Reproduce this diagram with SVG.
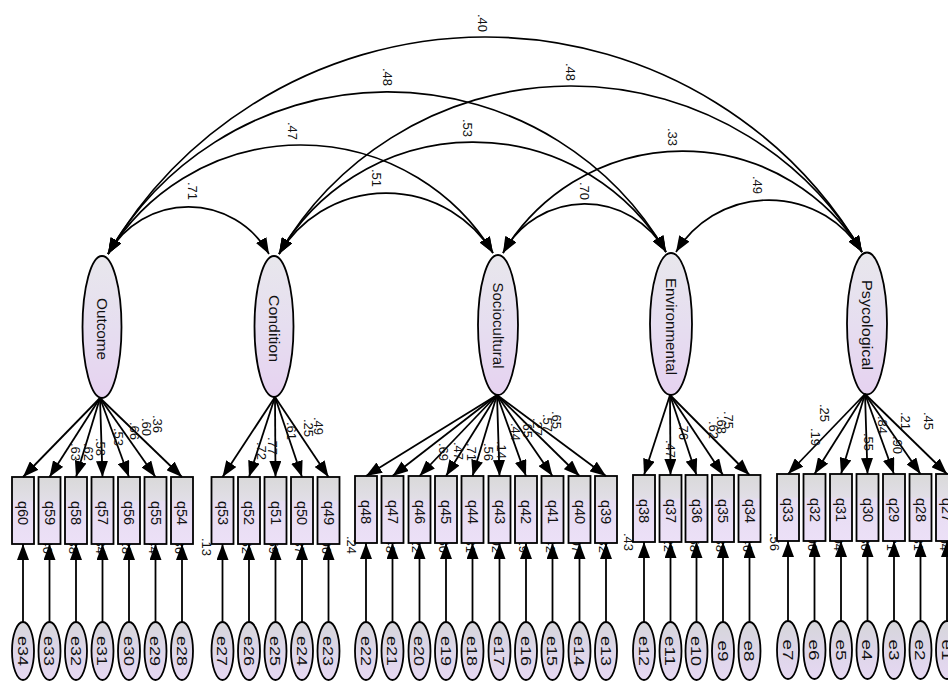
<svg xmlns="http://www.w3.org/2000/svg" width="948" height="687" viewBox="0 0 948 687">
<defs>
<linearGradient id="gb" x1="0" y1="0" x2="0" y2="1"><stop offset="0" stop-color="#d9d9d9"/><stop offset="0.34" stop-color="#e1dee6"/><stop offset="0.37" stop-color="#e6dcf1"/><stop offset="1" stop-color="#ece0f7"/></linearGradient>
<linearGradient id="gl" x1="0" y1="0" x2="0" y2="1"><stop offset="0" stop-color="#e8e7ec"/><stop offset="0.5" stop-color="#e6def0"/><stop offset="1" stop-color="#e6d2f0"/></linearGradient>
<linearGradient id="ge" x1="0" y1="0" x2="0" y2="1"><stop offset="0" stop-color="#d6d6da"/><stop offset="0.5" stop-color="#ddd6e8"/><stop offset="1" stop-color="#e6d8f2"/></linearGradient>
<marker id="ah" viewBox="0 0 16 12" refX="16" refY="6" markerWidth="16" markerHeight="12" markerUnits="userSpaceOnUse" orient="auto-start-reverse"><path d="M0,0 L16,6 L0,12 z" fill="#000"/></marker>
</defs>
<style>
text{font-family:"Liberation Sans",Arial,sans-serif;fill:#111;text-anchor:middle;dominant-baseline:central}
.box{fill:url(#gb);stroke:#000;stroke-width:1.8}
.lat{fill:url(#gl);stroke:#000;stroke-width:1.8}
.err{fill:url(#ge);stroke:#000;stroke-width:1.8}
.ln{stroke:#000;stroke-width:1.8;fill:none;marker-end:url(#ah)}
.cv{stroke:#000;stroke-width:1.7;fill:none;marker-start:url(#ah);marker-end:url(#ah)}
.ql{font-size:14.5px}
.el{font-size:15px}
.ll{font-size:15.5px}
.c{font-size:13px}
</style>
<rect width="948" height="687" fill="#fff"/>

<!-- latent nodes -->
<g id="Outcome"><ellipse class="lat" cx="102" cy="327" rx="19.5" ry="71"/><text class="ll" x="102" y="329" transform="rotate(90 102 329)" textLength="62" lengthAdjust="spacingAndGlyphs">Outcome</text></g>
<g id="Condition"><ellipse class="lat" cx="274" cy="326.5" rx="19.5" ry="70.5"/><text class="ll" x="274" y="328.5" transform="rotate(90 274 328.5)" textLength="67" lengthAdjust="spacingAndGlyphs">Condition</text></g>
<g id="Sociocultural"><ellipse class="lat" cx="498" cy="325" rx="20" ry="70"/><text class="ll" x="498" y="325.5" transform="rotate(90 498 325.5)" textLength="86" lengthAdjust="spacingAndGlyphs">Sociocultural</text></g>
<g id="Environmental"><ellipse class="lat" cx="671" cy="324" rx="21" ry="71"/><text class="ll" x="671" y="326.5" transform="rotate(90 671 326.5)" textLength="97" lengthAdjust="spacingAndGlyphs">Environmental</text></g>
<g id="Psycological"><ellipse class="lat" cx="867" cy="323.5" rx="20" ry="71"/><text class="ll" x="867" y="325" transform="rotate(90 867 325)" textLength="90" lengthAdjust="spacingAndGlyphs">Psycological</text></g>

<!-- observed nodes: Outcome -->
<g id="q60"><rect class="box" x="12" y="477" width="22" height="67"/><text class="ql" x="23" y="513" transform="rotate(90 23 513)">q60</text><text class="c" x="47" y="545" transform="rotate(90 47 545)">.40</text></g>
<g id="q59"><rect class="box" x="38.5" y="477" width="22" height="67"/><text class="ql" x="49.5" y="513" transform="rotate(90 49.5 513)">q59</text><text class="c" x="73.5" y="545" transform="rotate(90 73.5 545)">.38</text></g>
<g id="q58"><rect class="box" x="65" y="477" width="22" height="67"/><text class="ql" x="76" y="513" transform="rotate(90 76 513)">q58</text><text class="c" x="100" y="545" transform="rotate(90 100 545)">.34</text></g>
<g id="q57"><rect class="box" x="91.5" y="477" width="22" height="67"/><text class="ql" x="102.5" y="513" transform="rotate(90 102.5 513)">q57</text><text class="c" x="126.5" y="545" transform="rotate(90 126.5 545)">.28</text></g>
<g id="q56"><rect class="box" x="118" y="477" width="22" height="67"/><text class="ql" x="129" y="513" transform="rotate(90 129 513)">q56</text><text class="c" x="153" y="545" transform="rotate(90 153 545)">.44</text></g>
<g id="q55"><rect class="box" x="144.5" y="477" width="22" height="67"/><text class="ql" x="155.5" y="513" transform="rotate(90 155.5 513)">q55</text><text class="c" x="179.5" y="545" transform="rotate(90 179.5 545)">.36</text></g>
<g id="q54"><rect class="box" x="171" y="477" width="22" height="67"/><text class="ql" x="182" y="513" transform="rotate(90 182 513)">q54</text><text class="c" x="206" y="547" transform="rotate(90 206 547)">.13</text></g>

<!-- Condition -->
<g id="q53"><rect class="box" x="211.5" y="477" width="22" height="67"/><text class="ql" x="222.5" y="513" transform="rotate(90 222.5 513)">q53</text><text class="c" x="246.5" y="545" transform="rotate(90 246.5 545)">.52</text></g>
<g id="q52"><rect class="box" x="238" y="477" width="22" height="67"/><text class="ql" x="249" y="513" transform="rotate(90 249 513)">q52</text><text class="c" x="273" y="545" transform="rotate(90 273 545)">.59</text></g>
<g id="q51"><rect class="box" x="264.5" y="477" width="22" height="67"/><text class="ql" x="275.5" y="513" transform="rotate(90 275.5 513)">q51</text><text class="c" x="299.5" y="545" transform="rotate(90 299.5 545)">.37</text></g>
<g id="q50"><rect class="box" x="291" y="477" width="22" height="67"/><text class="ql" x="302" y="513" transform="rotate(90 302 513)">q50</text><text class="c" x="326" y="545" transform="rotate(90 326 545)">.06</text></g>
<g id="q49"><rect class="box" x="317.5" y="477" width="22" height="67"/><text class="ql" x="328.5" y="513" transform="rotate(90 328.5 513)">q49</text><text class="c" x="351" y="545" transform="rotate(90 351 545)">.24</text></g>

<!-- Sociocultural -->
<g id="q48"><rect class="box" x="355" y="476" width="22" height="67"/><text class="ql" x="366" y="512" transform="rotate(90 366 512)">q48</text><text class="c" x="390" y="544" transform="rotate(90 390 544)">.48</text></g>
<g id="q47"><rect class="box" x="381.5" y="476" width="22" height="67"/><text class="ql" x="392.5" y="512" transform="rotate(90 392.5 512)">q47</text><text class="c" x="416.5" y="544" transform="rotate(90 416.5 544)">.22</text></g>
<g id="q46"><rect class="box" x="408.5" y="476" width="22" height="67"/><text class="ql" x="419.5" y="512" transform="rotate(90 419.5 512)">q46</text><text class="c" x="443.5" y="544" transform="rotate(90 443.5 544)">.50</text></g>
<g id="q45"><rect class="box" x="435" y="476" width="22" height="67"/><text class="ql" x="446" y="512" transform="rotate(90 446 512)">q45</text><text class="c" x="470" y="544" transform="rotate(90 470 544)">.31</text></g>
<g id="q44"><rect class="box" x="461.5" y="476" width="22" height="67"/><text class="ql" x="472.5" y="512" transform="rotate(90 472.5 512)">q44</text><text class="c" x="496.5" y="544" transform="rotate(90 496.5 544)">.02</text></g>
<g id="q43"><rect class="box" x="488.5" y="476" width="22" height="67"/><text class="ql" x="499.5" y="512" transform="rotate(90 499.5 512)">q43</text><text class="c" x="523.5" y="544" transform="rotate(90 523.5 544)">.19</text></g>
<g id="q42"><rect class="box" x="515" y="476" width="22" height="67"/><text class="ql" x="526" y="512" transform="rotate(90 526 512)">q42</text><text class="c" x="550" y="544" transform="rotate(90 550 544)">.42</text></g>
<g id="q41"><rect class="box" x="541.5" y="476" width="22" height="67"/><text class="ql" x="552.5" y="512" transform="rotate(90 552.5 512)">q41</text><text class="c" x="576.5" y="544" transform="rotate(90 576.5 544)">.07</text></g>
<g id="q40"><rect class="box" x="568.5" y="476" width="22" height="67"/><text class="ql" x="579.5" y="512" transform="rotate(90 579.5 512)">q40</text><text class="c" x="603.5" y="544" transform="rotate(90 603.5 544)">.32</text></g>
<g id="q39"><rect class="box" x="595" y="476" width="22" height="67"/><text class="ql" x="606" y="512" transform="rotate(90 606 512)">q39</text><text class="c" x="628" y="542" transform="rotate(90 628 542)">.43</text></g>

<!-- Environmental -->
<g id="q38"><rect class="box" x="633" y="475" width="22" height="67"/><text class="ql" x="644" y="511" transform="rotate(90 644 511)">q38</text><text class="c" x="668" y="543" transform="rotate(90 668 543)">.22</text></g>
<g id="q37"><rect class="box" x="659.5" y="475" width="22" height="67"/><text class="ql" x="670.5" y="511" transform="rotate(90 670.5 511)">q37</text><text class="c" x="694.5" y="543" transform="rotate(90 694.5 543)">.58</text></g>
<g id="q36"><rect class="box" x="685.5" y="475" width="22" height="67"/><text class="ql" x="696.5" y="511" transform="rotate(90 696.5 511)">q36</text><text class="c" x="720.5" y="543" transform="rotate(90 720.5 543)">.38</text></g>
<g id="q35"><rect class="box" x="712" y="475" width="22" height="67"/><text class="ql" x="723" y="511" transform="rotate(90 723 511)">q35</text><text class="c" x="747" y="543" transform="rotate(90 747 543)">.46</text></g>
<g id="q34"><rect class="box" x="738.5" y="475" width="22" height="67"/><text class="ql" x="749.5" y="511" transform="rotate(90 749.5 511)">q34</text><text class="c" x="774" y="542" transform="rotate(90 774 542)">.56</text></g>

<!-- Psycological -->
<g id="q33"><rect class="box" x="777" y="474" width="22" height="67"/><text class="ql" x="788" y="510" transform="rotate(90 788 510)">q33</text><text class="c" x="812" y="542" transform="rotate(90 812 542)">.06</text></g>
<g id="q32"><rect class="box" x="803.5" y="474" width="22" height="67"/><text class="ql" x="814.5" y="510" transform="rotate(90 814.5 510)">q32</text><text class="c" x="838.5" y="542" transform="rotate(90 838.5 542)">.04</text></g>
<g id="q31"><rect class="box" x="830" y="474" width="22" height="67"/><text class="ql" x="841" y="510" transform="rotate(90 841 510)">q31</text><text class="c" x="865" y="542" transform="rotate(90 865 542)">.30</text></g>
<g id="q30"><rect class="box" x="856.5" y="474" width="22" height="67"/><text class="ql" x="867.5" y="510" transform="rotate(90 867.5 510)">q30</text><text class="c" x="891.5" y="542" transform="rotate(90 891.5 542)">.71</text></g>
<g id="q29"><rect class="box" x="883" y="474" width="22" height="67"/><text class="ql" x="894" y="510" transform="rotate(90 894 510)">q29</text><text class="c" x="918" y="542" transform="rotate(90 918 542)">.81</text></g>
<g id="q28"><rect class="box" x="909.5" y="474" width="22" height="67"/><text class="ql" x="920.5" y="510" transform="rotate(90 920.5 510)">q28</text><text class="c" x="944.5" y="542" transform="rotate(90 944.5 542)">.04</text></g>
<g id="q27"><rect class="box" x="936" y="474" width="22" height="67"/><text class="ql" x="947" y="510" transform="rotate(90 947 510)">q27</text></g>

<!-- error nodes -->
<g id="e34"><ellipse class="err" cx="23" cy="651" rx="11" ry="29"/><text class="el" x="23" y="651" transform="rotate(90 23 651)" textLength="30" lengthAdjust="spacingAndGlyphs">e34</text></g>
<g id="e33"><ellipse class="err" cx="49.5" cy="651" rx="11" ry="29"/><text class="el" x="49.5" y="651" transform="rotate(90 49.5 651)" textLength="30" lengthAdjust="spacingAndGlyphs">e33</text></g>
<g id="e32"><ellipse class="err" cx="76" cy="651" rx="11" ry="29"/><text class="el" x="76" y="651" transform="rotate(90 76 651)" textLength="30" lengthAdjust="spacingAndGlyphs">e32</text></g>
<g id="e31"><ellipse class="err" cx="102.5" cy="651" rx="11" ry="29"/><text class="el" x="102.5" y="651" transform="rotate(90 102.5 651)" textLength="30" lengthAdjust="spacingAndGlyphs">e31</text></g>
<g id="e30"><ellipse class="err" cx="129" cy="651" rx="11" ry="29"/><text class="el" x="129" y="651" transform="rotate(90 129 651)" textLength="30" lengthAdjust="spacingAndGlyphs">e30</text></g>
<g id="e29"><ellipse class="err" cx="155.5" cy="651" rx="11" ry="29"/><text class="el" x="155.5" y="651" transform="rotate(90 155.5 651)" textLength="30" lengthAdjust="spacingAndGlyphs">e29</text></g>
<g id="e28"><ellipse class="err" cx="182" cy="651" rx="11" ry="29"/><text class="el" x="182" y="651" transform="rotate(90 182 651)" textLength="30" lengthAdjust="spacingAndGlyphs">e28</text></g>
<g id="e27"><ellipse class="err" cx="222.5" cy="651" rx="11" ry="29"/><text class="el" x="222.5" y="651" transform="rotate(90 222.5 651)" textLength="30" lengthAdjust="spacingAndGlyphs">e27</text></g>
<g id="e26"><ellipse class="err" cx="249" cy="651" rx="11" ry="29"/><text class="el" x="249" y="651" transform="rotate(90 249 651)" textLength="30" lengthAdjust="spacingAndGlyphs">e26</text></g>
<g id="e25"><ellipse class="err" cx="275.5" cy="651" rx="11" ry="29"/><text class="el" x="275.5" y="651" transform="rotate(90 275.5 651)" textLength="30" lengthAdjust="spacingAndGlyphs">e25</text></g>
<g id="e24"><ellipse class="err" cx="302" cy="651" rx="11" ry="29"/><text class="el" x="302" y="651" transform="rotate(90 302 651)" textLength="30" lengthAdjust="spacingAndGlyphs">e24</text></g>
<g id="e23"><ellipse class="err" cx="328.5" cy="651" rx="11" ry="29"/><text class="el" x="328.5" y="651" transform="rotate(90 328.5 651)" textLength="30" lengthAdjust="spacingAndGlyphs">e23</text></g>
<g id="e22"><ellipse class="err" cx="366" cy="651" rx="11" ry="29"/><text class="el" x="366" y="651" transform="rotate(90 366 651)" textLength="30" lengthAdjust="spacingAndGlyphs">e22</text></g>
<g id="e21"><ellipse class="err" cx="392.5" cy="651" rx="11" ry="29"/><text class="el" x="392.5" y="651" transform="rotate(90 392.5 651)" textLength="30" lengthAdjust="spacingAndGlyphs">e21</text></g>
<g id="e20"><ellipse class="err" cx="419.5" cy="651" rx="11" ry="29"/><text class="el" x="419.5" y="651" transform="rotate(90 419.5 651)" textLength="30" lengthAdjust="spacingAndGlyphs">e20</text></g>
<g id="e19"><ellipse class="err" cx="446" cy="651" rx="11" ry="29"/><text class="el" x="446" y="651" transform="rotate(90 446 651)" textLength="30" lengthAdjust="spacingAndGlyphs">e19</text></g>
<g id="e18"><ellipse class="err" cx="472.5" cy="651" rx="11" ry="29"/><text class="el" x="472.5" y="651" transform="rotate(90 472.5 651)" textLength="30" lengthAdjust="spacingAndGlyphs">e18</text></g>
<g id="e17"><ellipse class="err" cx="499.5" cy="651" rx="11" ry="29"/><text class="el" x="499.5" y="651" transform="rotate(90 499.5 651)" textLength="30" lengthAdjust="spacingAndGlyphs">e17</text></g>
<g id="e16"><ellipse class="err" cx="526" cy="651" rx="11" ry="29"/><text class="el" x="526" y="651" transform="rotate(90 526 651)" textLength="30" lengthAdjust="spacingAndGlyphs">e16</text></g>
<g id="e15"><ellipse class="err" cx="552.5" cy="651" rx="11" ry="29"/><text class="el" x="552.5" y="651" transform="rotate(90 552.5 651)" textLength="30" lengthAdjust="spacingAndGlyphs">e15</text></g>
<g id="e14"><ellipse class="err" cx="579.5" cy="651" rx="11" ry="29"/><text class="el" x="579.5" y="651" transform="rotate(90 579.5 651)" textLength="30" lengthAdjust="spacingAndGlyphs">e14</text></g>
<g id="e13"><ellipse class="err" cx="606" cy="651" rx="11" ry="29"/><text class="el" x="606" y="651" transform="rotate(90 606 651)" textLength="30" lengthAdjust="spacingAndGlyphs">e13</text></g>
<g id="e12"><ellipse class="err" cx="644" cy="651" rx="11" ry="29"/><text class="el" x="644" y="651" transform="rotate(90 644 651)" textLength="30" lengthAdjust="spacingAndGlyphs">e12</text></g>
<g id="e11"><ellipse class="err" cx="670.5" cy="651" rx="11" ry="29"/><text class="el" x="670.5" y="651" transform="rotate(90 670.5 651)" textLength="30" lengthAdjust="spacingAndGlyphs">e11</text></g>
<g id="e10"><ellipse class="err" cx="696.5" cy="651" rx="11" ry="29"/><text class="el" x="696.5" y="651" transform="rotate(90 696.5 651)" textLength="30" lengthAdjust="spacingAndGlyphs">e10</text></g>
<g id="e9"><ellipse class="err" cx="723" cy="651" rx="11" ry="29"/><text class="el" x="723" y="651" transform="rotate(90 723 651)" textLength="21" lengthAdjust="spacingAndGlyphs">e9</text></g>
<g id="e8"><ellipse class="err" cx="749.5" cy="651" rx="11" ry="29"/><text class="el" x="749.5" y="651" transform="rotate(90 749.5 651)" textLength="21" lengthAdjust="spacingAndGlyphs">e8</text></g>
<g id="e7"><ellipse class="err" cx="788" cy="650" rx="11" ry="29"/><text class="el" x="788" y="650" transform="rotate(90 788 650)" textLength="21" lengthAdjust="spacingAndGlyphs">e7</text></g>
<g id="e6"><ellipse class="err" cx="814.5" cy="650" rx="11" ry="29"/><text class="el" x="814.5" y="650" transform="rotate(90 814.5 650)" textLength="21" lengthAdjust="spacingAndGlyphs">e6</text></g>
<g id="e5"><ellipse class="err" cx="841" cy="650" rx="11" ry="29"/><text class="el" x="841" y="650" transform="rotate(90 841 650)" textLength="21" lengthAdjust="spacingAndGlyphs">e5</text></g>
<g id="e4"><ellipse class="err" cx="867.5" cy="650" rx="11" ry="29"/><text class="el" x="867.5" y="650" transform="rotate(90 867.5 650)" textLength="21" lengthAdjust="spacingAndGlyphs">e4</text></g>
<g id="e3"><ellipse class="err" cx="894" cy="650" rx="11" ry="29"/><text class="el" x="894" y="650" transform="rotate(90 894 650)" textLength="21" lengthAdjust="spacingAndGlyphs">e3</text></g>
<g id="e2"><ellipse class="err" cx="920.5" cy="650" rx="11" ry="29"/><text class="el" x="920.5" y="650" transform="rotate(90 920.5 650)" textLength="21" lengthAdjust="spacingAndGlyphs">e2</text></g>
<g id="e1"><ellipse class="err" cx="947" cy="650" rx="11" ry="29"/><text class="el" x="947" y="650" transform="rotate(90 947 650)" textLength="21" lengthAdjust="spacingAndGlyphs">e1</text></g>

<g id="connectors">
<!-- covariances -->
<path class="cv" d="M108,254 A92.4,92.4 0 0 1 269,254"/>
<path class="cv" d="M108,254 A225,225 0 0 1 493,253"/>
<path class="cv" d="M108,254 A322.2,322.2 0 0 1 666,252"/>
<path class="cv" d="M108,254 A437,437 0 0 1 862,252"/>
<path class="cv" d="M279,254 A124.9,124.9 0 0 1 493,253"/>
<path class="cv" d="M279,254 A224.2,224.2 0 0 1 666,252"/>
<path class="cv" d="M279,254 A337.9,337.9 0 0 1 862,252"/>
<path class="cv" d="M503,253 A92.7,92.7 0 0 1 666,252"/>
<path class="cv" d="M503,253 A209.5,209.5 0 0 1 862,252"/>
<path class="cv" d="M676,252 A109.2,109.2 0 0 1 862,252"/>
<text class="c" x="192" y="191" transform="rotate(90 192 191)">.71</text>
<text class="c" x="292" y="131" transform="rotate(90 292 131)">.47</text>
<text class="c" x="387" y="77" transform="rotate(90 387 77)">.48</text>
<text class="c" x="482" y="23" transform="rotate(90 482 23)">.40</text>
<text class="c" x="376" y="178" transform="rotate(90 376 178)">.51</text>
<text class="c" x="467" y="128" transform="rotate(90 467 128)">.53</text>
<text class="c" x="570" y="72" transform="rotate(90 570 72)">.48</text>
<text class="c" x="584" y="191" transform="rotate(90 584 191)">.70</text>
<text class="c" x="672" y="137" transform="rotate(90 672 137)">.33</text>
<text class="c" x="757" y="185" transform="rotate(90 757 185)">.49</text>

<!-- loadings: Outcome -->
<line class="ln" x1="100" y1="398" x2="23" y2="477"/>
<line class="ln" x1="100" y1="398" x2="49.5" y2="477"/>
<line class="ln" x1="100" y1="398" x2="76" y2="477"/>
<line class="ln" x1="100" y1="398" x2="102.5" y2="477"/>
<line class="ln" x1="100" y1="398" x2="129" y2="477"/>
<line class="ln" x1="100" y1="398" x2="155.5" y2="477"/>
<line class="ln" x1="100" y1="398" x2="182" y2="477"/>
<text class="c" x="75" y="452" transform="rotate(90 75 452)">.63</text>
<text class="c" x="88" y="452" transform="rotate(90 88 452)">.62</text>
<text class="c" x="100" y="447" transform="rotate(90 100 447)">.58</text>
<text class="c" x="118" y="437" transform="rotate(90 118 437)">.53</text>
<text class="c" x="134" y="431" transform="rotate(90 134 431)">.66</text>
<text class="c" x="146" y="427" transform="rotate(90 146 427)">.60</text>
<text class="c" x="157" y="424" transform="rotate(90 157 424)">.36</text>

<!-- loadings: Condition -->
<line class="ln" x1="275" y1="397" x2="222.5" y2="477"/>
<line class="ln" x1="275" y1="397" x2="249" y2="477"/>
<line class="ln" x1="275" y1="397" x2="275.5" y2="477"/>
<line class="ln" x1="275" y1="397" x2="302" y2="477"/>
<line class="ln" x1="275" y1="397" x2="328.5" y2="477"/>
<text class="c" x="261" y="451" transform="rotate(90 261 451)">.72</text>
<text class="c" x="272" y="446" transform="rotate(90 272 446)">.77</text>
<text class="c" x="291" y="431" transform="rotate(90 291 431)">.61</text>
<text class="c" x="308" y="428" transform="rotate(90 308 428)">.25</text>
<text class="c" x="318" y="426" transform="rotate(90 318 426)">.49</text>

<!-- loadings: Sociocultural -->
<line class="ln" x1="497" y1="395" x2="366" y2="476"/>
<line class="ln" x1="497" y1="395" x2="392.5" y2="476"/>
<line class="ln" x1="497" y1="395" x2="419.5" y2="476"/>
<line class="ln" x1="497" y1="395" x2="446" y2="476"/>
<line class="ln" x1="497" y1="395" x2="472.5" y2="476"/>
<line class="ln" x1="497" y1="395" x2="499.5" y2="476"/>
<line class="ln" x1="497" y1="395" x2="526" y2="476"/>
<line class="ln" x1="497" y1="395" x2="552.5" y2="476"/>
<line class="ln" x1="497" y1="395" x2="579.5" y2="476"/>
<line class="ln" x1="497" y1="395" x2="606" y2="476"/>
<text class="c" x="443" y="452" transform="rotate(90 443 452)">.69</text>
<text class="c" x="458" y="451" transform="rotate(90 458 451)">.47</text>
<text class="c" x="471" y="452" transform="rotate(90 471 452)">.71</text>
<text class="c" x="488" y="452" transform="rotate(90 488 452)">.56</text>
<text class="c" x="501" y="450" transform="rotate(90 501 450)">.14</text>
<text class="c" x="515" y="432" transform="rotate(90 515 432)">.44</text>
<text class="c" x="527" y="429" transform="rotate(90 527 429)">.65</text>
<text class="c" x="537" y="427" transform="rotate(90 537 427)">.27</text>
<text class="c" x="547" y="423" transform="rotate(90 547 423)">.57</text>
<text class="c" x="556" y="420" transform="rotate(90 556 420)">.65</text>

<!-- loadings: Environmental -->
<line class="ln" x1="670" y1="395" x2="644" y2="475"/>
<line class="ln" x1="670" y1="395" x2="670.5" y2="475"/>
<line class="ln" x1="670" y1="395" x2="696.5" y2="475"/>
<line class="ln" x1="670" y1="395" x2="723" y2="475"/>
<line class="ln" x1="670" y1="395" x2="749.5" y2="475"/>
<text class="c" x="670" y="449" transform="rotate(90 670 449)">.47</text>
<text class="c" x="683" y="431" transform="rotate(90 683 431)">.76</text>
<text class="c" x="713" y="430" transform="rotate(90 713 430)">.62</text>
<text class="c" x="721" y="425" transform="rotate(90 721 425)">.68</text>
<text class="c" x="728" y="420" transform="rotate(90 728 420)">.75</text>

<!-- loadings: Psycological -->
<line class="ln" x1="865" y1="394" x2="788" y2="474"/>
<line class="ln" x1="865" y1="394" x2="814.5" y2="474"/>
<line class="ln" x1="865" y1="394" x2="841" y2="474"/>
<line class="ln" x1="865" y1="394" x2="867.5" y2="474"/>
<line class="ln" x1="865" y1="394" x2="894" y2="474"/>
<line class="ln" x1="865" y1="394" x2="920.5" y2="474"/>
<line class="ln" x1="865" y1="394" x2="947" y2="474"/>
<text class="c" x="824" y="413" transform="rotate(90 824 413)">.25</text>
<text class="c" x="815" y="437" transform="rotate(90 815 437)">.19</text>
<text class="c" x="868" y="442" transform="rotate(90 868 442)">.55</text>
<text class="c" x="882" y="425" transform="rotate(90 882 425)">.84</text>
<text class="c" x="897" y="445" transform="rotate(90 897 445)">.90</text>
<text class="c" x="905" y="421" transform="rotate(90 905 421)">.21</text>
<text class="c" x="928" y="421" transform="rotate(90 928 421)">.45</text>

<!-- error paths -->
<line class="ln" x1="23" y1="622" x2="23" y2="544"/>
<line class="ln" x1="49.5" y1="622" x2="49.5" y2="544"/>
<line class="ln" x1="76" y1="622" x2="76" y2="544"/>
<line class="ln" x1="102.5" y1="622" x2="102.5" y2="544"/>
<line class="ln" x1="129" y1="622" x2="129" y2="544"/>
<line class="ln" x1="155.5" y1="622" x2="155.5" y2="544"/>
<line class="ln" x1="182" y1="622" x2="182" y2="544"/>
<line class="ln" x1="222.5" y1="622" x2="222.5" y2="544"/>
<line class="ln" x1="249" y1="622" x2="249" y2="544"/>
<line class="ln" x1="275.5" y1="622" x2="275.5" y2="544"/>
<line class="ln" x1="302" y1="622" x2="302" y2="544"/>
<line class="ln" x1="328.5" y1="622" x2="328.5" y2="544"/>
<line class="ln" x1="366" y1="622" x2="366" y2="543"/>
<line class="ln" x1="392.5" y1="622" x2="392.5" y2="543"/>
<line class="ln" x1="419.5" y1="622" x2="419.5" y2="543"/>
<line class="ln" x1="446" y1="622" x2="446" y2="543"/>
<line class="ln" x1="472.5" y1="622" x2="472.5" y2="543"/>
<line class="ln" x1="499.5" y1="622" x2="499.5" y2="543"/>
<line class="ln" x1="526" y1="622" x2="526" y2="543"/>
<line class="ln" x1="552.5" y1="622" x2="552.5" y2="543"/>
<line class="ln" x1="579.5" y1="622" x2="579.5" y2="543"/>
<line class="ln" x1="606" y1="622" x2="606" y2="543"/>
<line class="ln" x1="644" y1="622" x2="644" y2="542"/>
<line class="ln" x1="670.5" y1="622" x2="670.5" y2="542"/>
<line class="ln" x1="696.5" y1="622" x2="696.5" y2="542"/>
<line class="ln" x1="723" y1="622" x2="723" y2="542"/>
<line class="ln" x1="749.5" y1="622" x2="749.5" y2="542"/>
<line class="ln" x1="788" y1="621" x2="788" y2="541"/>
<line class="ln" x1="814.5" y1="621" x2="814.5" y2="541"/>
<line class="ln" x1="841" y1="621" x2="841" y2="541"/>
<line class="ln" x1="867.5" y1="621" x2="867.5" y2="541"/>
<line class="ln" x1="894" y1="621" x2="894" y2="541"/>
<line class="ln" x1="920.5" y1="621" x2="920.5" y2="541"/>
<line class="ln" x1="947" y1="621" x2="947" y2="541"/>
</g>
</svg>
